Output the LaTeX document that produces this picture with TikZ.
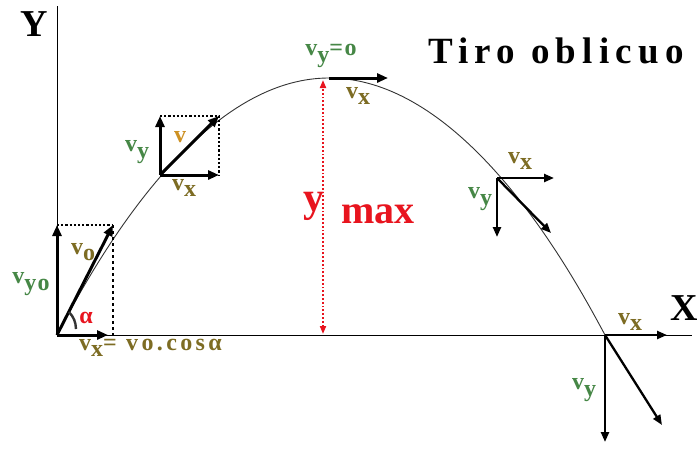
\documentclass[tikz,border=0pt]{standalone}
\usepackage{fontspec}
\setmainfont{Liberation Serif}
\usetikzlibrary{arrows.meta}
\definecolor{olv}{RGB}{125,108,35}
\definecolor{grn}{RGB}{70,135,70}
\definecolor{org}{RGB}{205,145,35}
\definecolor{rd}{RGB}{232,20,30}
\newcommand\lowsub[2]{#1\raisebox{-0.6ex}{#2}}
\tikzset{
  vec/.style={line width=3pt,-{Triangle[length=11pt,width=9pt]}},
  vecthin/.style={line width=2.3pt,-{Triangle[length=10pt,width=8pt]}},
  axis/.style={line width=1pt},
  guide/.style={line width=2.2pt,dotted},
  lab/.style={font=\bfseries\fontsize{24}{26}\selectfont\addfontfeature{LetterSpace=6},inner sep=0pt},
  biglab/.style={font=\bfseries\fontsize{38}{40}\selectfont,inner sep=0pt}
}
\begin{document}
\begin{tikzpicture}[x=1pt,y=-1pt]
\useasboundingbox[fill=white] (0,0) rectangle (700,448);
% key points
\coordinate (O) at (57,335);
\coordinate (Ytop) at (57,6);
\coordinate (Xend) at (692,335);
\coordinate (A) at (113,225);
\coordinate (Ay) at (57,225);
\coordinate (Ax) at (108,335);
\coordinate (Ab) at (113,335);
\coordinate (P2) at (160,175);
\coordinate (P2y) at (160,116);
\coordinate (P2x) at (219,175);
\coordinate (P2v) at (219,116);
\coordinate (P3) at (329,78);
\coordinate (P3x) at (388,78);
\coordinate (Hb) at (323,334);
\coordinate (Ht) at (323,80);
\coordinate (P4) at (497,178);
\coordinate (P4x) at (554,178);
\coordinate (P4y) at (497,237);
\coordinate (P4v) at (551,233);
\coordinate (L) at (605,335);
\coordinate (Lx) at (667,335);
\coordinate (Ly) at (605,442);
\coordinate (Lv) at (662,425);
% axes
\draw[axis] (O) -- (Ytop);
\draw[axis] (O) -- (Xend);
\node[biglab] (Ylab) at (34,24) {Y};
\node[biglab] (Xlab) at (684,308) {X};
% trajectory
\draw[line width=0.9pt,black!80] (O) parabola bend (P3) (L);
% origin decomposition
\draw[guide] (Ay) -- (A);
\draw[line width=2pt,dashed,dash pattern=on 3pt off 3pt] (A) -- (Ab);
\draw[vec] (O) -- (Ay);
\draw[vec] (O) -- (Ax);
\draw[vec] (O) -- (A);
\draw[line width=2.4pt,black!80] (76,329) to[bend right=20] (69,312);
\node[lab,text=grn] (vyo) at (31,284) {\lowsub{v}{yo}};
\node[lab,text=olv] (vo) at (83,252) {\lowsub{v}{o}};
\node[lab,text=rd] (alpha) at (86,318) {α};
\node[lab,text=olv,anchor=west,font=\bfseries\fontsize{24}{26}\selectfont\addfontfeature{LetterSpace=14}] (vxcos) at (79,348) {\lowsub{v}{x}= vo.cosα};
% second point
\draw[guide] (P2y) -- (P2v) -- (P2x);
\draw[vec] (P2) -- (P2y);
\draw[vec] (P2) -- (P2x);
\draw[vec] (P2) -- (P2v);
\node[lab,text=grn] (vy2) at (137,152) {\lowsub{v}{y}};
\node[lab,text=org] (v2) at (180,137) {v};
\node[lab,text=olv] (vx2) at (184,188) {\lowsub{v}{x}};
% apex
\draw[vec] (P3) -- (P3x);
\draw[rd,line width=1.8pt,dotted,{Triangle[length=8pt,width=6pt]}-{Triangle[length=8pt,width=6pt]}] (Hb) -- (Ht);
\node[lab,text=grn] (vy0) at (331,56) {\lowsub{v}{y}=o};
\node[lab,text=olv] (vx3) at (358,96) {\lowsub{v}{x}};
\node[inner sep=0pt,text=rd,font=\bfseries\fontsize{42}{44}\selectfont] (ymax) at (314,206) {y};
\node[inner sep=0pt,text=rd,font=\bfseries\fontsize{40}{42}\selectfont] (maxlab) at (378,214) {max};
% descending point
\draw[vecthin] (P4) -- (P4x);
\draw[vecthin] (P4) -- (P4y);
\draw[vecthin] (P4) -- (P4v);
\node[lab,text=olv] (vx4) at (520,161) {\lowsub{v}{x}};
\node[lab,text=grn] (vy4) at (480,199) {\lowsub{v}{y}};
% landing point
\draw[vecthin] (L) -- (Lx);
\draw[vecthin] (L) -- (Ly);
\draw[vecthin] (L) -- (Lv);
\node[lab,text=olv] (vx5) at (630,322) {\lowsub{v}{x}};
\node[lab,text=grn] (vy5) at (584,390) {\lowsub{v}{y}};
% title
\node[inner sep=0pt,font=\bfseries\fontsize{37}{39}\selectfont\addfontfeature{LetterSpace=17}] (title) at (556,51) {Tiro oblicuo};
\end{tikzpicture}
\end{document}
